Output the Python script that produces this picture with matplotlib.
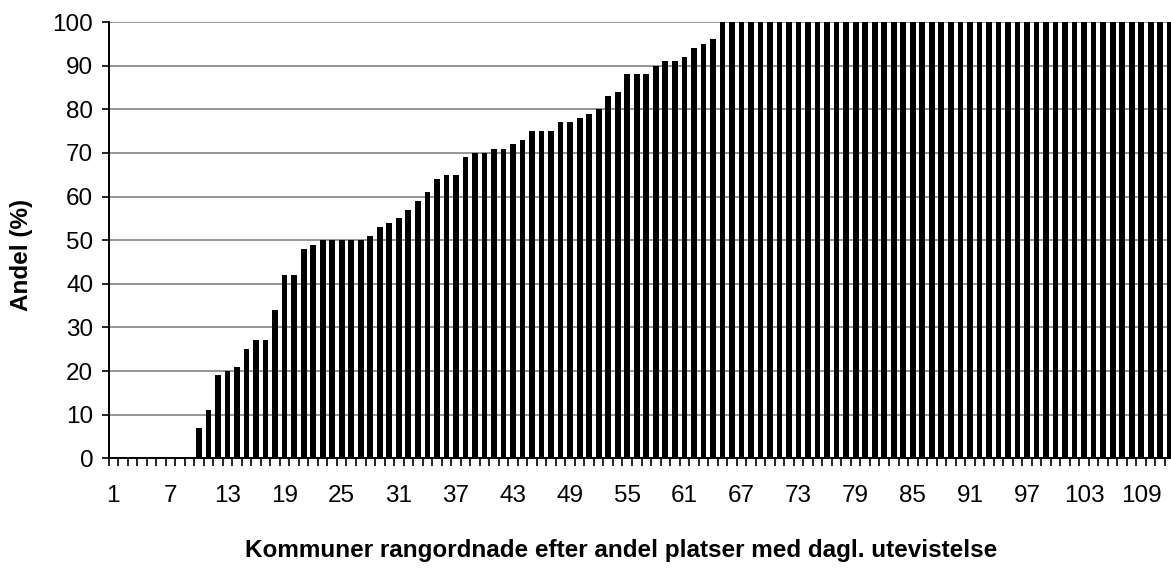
import numpy as np
import matplotlib.pyplot as plt
from matplotlib.ticker import FixedLocator

plt.rcParams['font.family'] = ['Liberation Sans', 'DejaVu Sans']

# andel (%) per kommun, rangordnade
share_low = [0, 0, 0, 0, 0, 0, 0, 0, 0,
             7, 11, 19, 20, 21, 25, 27, 27, 34, 42,
             42, 48, 49, 50, 50, 50, 50, 50, 51, 53,
             54, 55, 57, 59, 61, 64, 65, 65, 69, 70,
             70, 71, 71, 72, 73, 75, 75, 75, 77, 77,
             78, 79, 80, 83, 84, 88, 88, 88, 90, 91,
             91, 92, 94, 95, 96]
share_full = [100] * 48
shares = share_low + share_full
municipalities = np.arange(1, len(shares) + 1)
tick_labels = [str(n) for n in range(1, len(shares) + 1, 6)]

fig = plt.figure(figsize=(11.71, 5.70), dpi=100)
ax = fig.add_axes([0.0927, 0.196, 0.9103, 0.7654])

ax.bar(municipalities, shares, width=0.6, color='black', zorder=3)

ax.set_xlim(0.5, len(shares) + 0.5)
ax.set_ylim(0, 100)
ax.set_yticks(np.arange(0, 101, 10))
ax.yaxis.grid(True, color='#8c8c8c', linewidth=1.3, zorder=0)
ax.set_axisbelow(True)

ax.set_xticks(range(1, len(shares) + 1, 6))
ax.set_xticklabels(tick_labels)
ax.xaxis.set_minor_locator(FixedLocator(np.arange(0.5, len(shares) + 1, 1)))
ax.tick_params(axis='x', which='major', length=0, pad=19, labelsize=17.5)
ax.tick_params(axis='x', which='minor', length=6, width=1.2, direction='out')
ax.tick_params(axis='y', length=5, width=1.2, labelsize=17.5, pad=6)

for side in ['top', 'right']:
    ax.spines[side].set_visible(False)
for side in ['left', 'bottom']:
    ax.spines[side].set_linewidth(1.4)

ax.set_ylabel('Andel (%)', fontsize=17.5, fontweight='bold')
ax.yaxis.set_label_coords(-0.071, 0.466)
ax.set_xlabel('Kommuner rangordnade efter andel platser med dagl. utevistelse',
              fontsize=17.5, fontweight='bold')
ax.xaxis.set_label_coords(0.481, -0.185)

fig.savefig('out.png', dpi=100)
